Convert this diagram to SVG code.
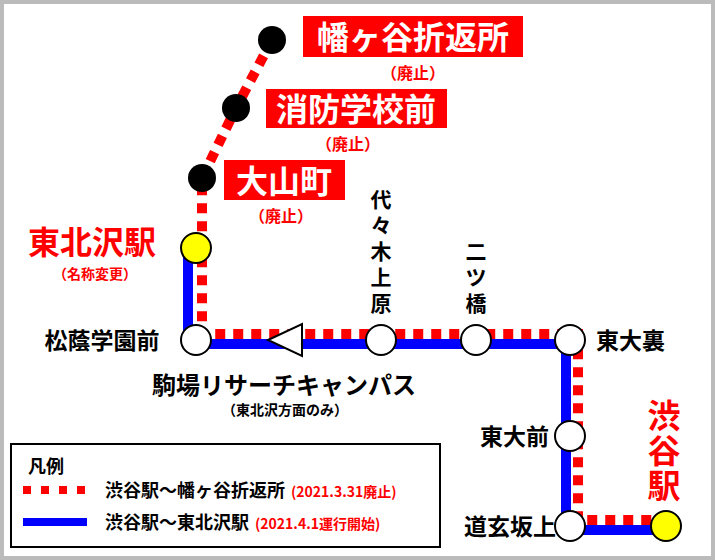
<svg xmlns="http://www.w3.org/2000/svg" width="715" height="560" viewBox="0 0 715 560">
<style>
text{font-family:"Noto Sans CJK JP",sans-serif;font-weight:bold}
.r{fill:#f00}.w{fill:#fff}.k{fill:#000}
.red{stroke:#f00;stroke-width:10;stroke-dasharray:10 8;fill:none}
.blue{stroke:#00f;stroke-width:10;fill:none}
.st{fill:#fff;stroke:#000;stroke-width:2}
.v{font-size:21px;fill:#000;text-anchor:middle}
.sv{font-size:33px;fill:#f00;text-anchor:middle}
</style>
<rect x="0" y="0" width="715" height="560" fill="#fff"/>
<rect x="2" y="2" width="711" height="556" fill="none" stroke="#bbb" stroke-width="4"/>
<g id="connectors">
<polyline class="blue" points="188,248 188,344 566,344 566,530 666,530"/>
<polyline class="red" points="272,40 236,108 202,178 202,334 578,334 578,520 666,520"/>
<polygon points="268,340 302,324 302,356" fill="#fff" stroke="#000" stroke-width="2"/>
</g>
<g id="hatagaya"><circle cx="272" cy="40" r="14" class="k"/><rect x="303" y="16" width="220" height="41" class="r"/><text x="413" y="49" class="w" font-size="32" text-anchor="middle">幡ヶ谷折返所</text><text x="413" y="79" class="r" font-size="16" text-anchor="middle">（廃止）</text></g>
<g id="shobo"><circle cx="236" cy="108" r="14" class="k"/><rect x="266" y="89" width="181" height="39" class="r"/><text x="356" y="121" class="w" font-size="32" text-anchor="middle">消防学校前</text><text x="348" y="150" class="r" font-size="16" text-anchor="middle">（廃止）</text></g>
<g id="oyama"><circle cx="202" cy="178" r="14" class="k"/><rect x="224" y="160" width="121" height="40" class="r"/><text x="284" y="193" class="w" font-size="32" text-anchor="middle">大山町</text><text x="281" y="222" class="r" font-size="16" text-anchor="middle">（廃止）</text></g>
<g id="higashikitazawa"><circle cx="196" cy="248" r="15" fill="#ff0" stroke="#000" stroke-width="2"/><text x="92" y="254" class="r" font-size="32" text-anchor="middle">東北沢駅</text><text x="95" y="279" class="r" font-size="14" text-anchor="middle">（名称変更）</text></g>
<g id="shoin"><circle cx="196" cy="340" r="15" class="st"/><text x="102" y="349" class="k" font-size="23" text-anchor="middle">松蔭学園前</text></g>
<g id="komaba"><text x="284" y="394" class="k" font-size="24" text-anchor="middle">駒場リサーチキャンパス</text><text x="285" y="415" class="k" font-size="14" text-anchor="middle">（東北沢方面のみ）</text></g>
<g id="yoyogiuehara"><circle cx="381" cy="340" r="15" class="st"/><text class="v" x="381" y="207">代</text><text class="v" x="381" y="233">々</text><text class="v" x="381" y="259">木</text><text class="v" x="381" y="285">上</text><text class="v" x="381" y="311">原</text></g>
<g id="futatsubashi"><circle cx="476" cy="340" r="15" class="st"/><text class="v" x="476" y="259">二</text><text class="v" x="476" y="285">ツ</text><text class="v" x="476" y="311">橋</text></g>
<g id="todaiura"><circle cx="570" cy="340" r="15" class="st"/><text x="596" y="349" class="k" font-size="23">東大裏</text></g>
<g id="todaimae"><circle cx="570" cy="436" r="15" class="st"/><text x="549" y="445" class="k" font-size="23" text-anchor="end">東大前</text></g>
<g id="dogenzaka"><circle cx="570" cy="526" r="15" class="st"/><text x="556" y="535" class="k" font-size="23" text-anchor="end">道玄坂上</text></g>
<g id="shibuya"><circle cx="666" cy="526" r="15" fill="#ff0" stroke="#000" stroke-width="2"/><text class="sv" x="664" y="428">渋</text><text class="sv" x="664" y="463">谷</text><text class="sv" x="664" y="498">駅</text></g>
<g id="legend"><rect x="11" y="444" width="429" height="103" fill="#fff" stroke="#000" stroke-width="2"/>
<text x="28" y="473" class="k" font-size="18">凡例</text>
<line x1="23" y1="490" x2="87" y2="490" stroke="#f00" stroke-width="8" stroke-dasharray="8 10"/>
<line x1="23" y1="522" x2="87" y2="522" stroke="#00f" stroke-width="8"/>
<text x="105" y="497" class="k" font-size="18">渋谷駅～幡ヶ谷折返所<tspan class="r" font-size="14" dx="6">(2021.3.31廃止)</tspan></text>
<text x="105" y="529" class="k" font-size="18">渋谷駅～東北沢駅<tspan class="r" font-size="14" dx="6">(2021.4.1運行開始)</tspan></text>
</g>
</svg>
